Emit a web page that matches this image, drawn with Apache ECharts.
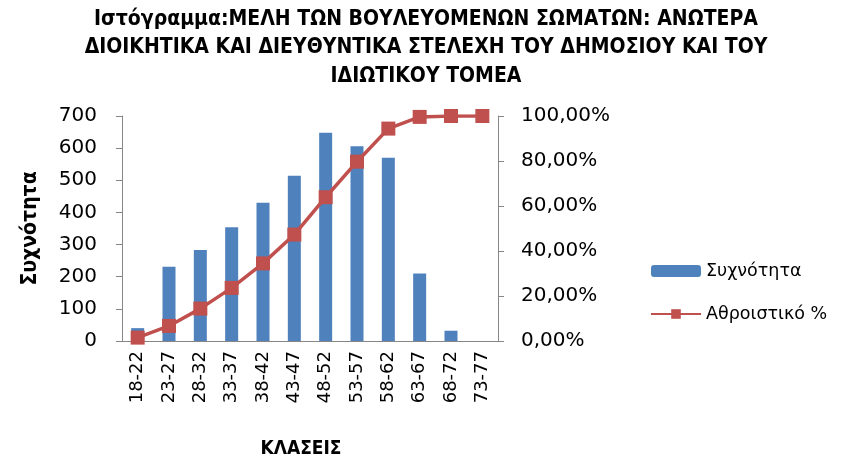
<!DOCTYPE html>
<html>
<head>
<meta charset="utf-8">
<script src="https://cdn.jsdelivr.net/npm/echarts@6/dist/echarts.min.js"></script>
<style>
  html, body { margin: 0; padding: 0; background: #fff; }
  #chart { width: 852px; height: 462px; }
</style>
</head>
<body>
<div id="chart"></div>
<script>
// κλάσεις ηλικίας
var classes = ['18-22', '23-27', '28-32', '33-37', '38-42', '43-47', '48-52', '53-57', '58-62', '63-67', '68-72', '73-77']
// συχνότητα ανά κλάση
var frequency = [40, 231, 283, 354, 430, 514, 648, 606, 570, 210, 32, 0]
// αθροιστικό ποσοστό (%)
var cumulative = [1.5, 6.7, 14.4, 23.6, 34.5, 47.3, 63.9, 79.7, 94.4, 99.6, 100, 100]

var font = 'DejaVu Sans, sans-serif'
var narrow = 'DejaVu Sans Condensed, Liberation Sans, sans-serif'
var axisGray = '#868686'

var chart = echarts.init(document.getElementById('chart'))
chart.setOption({
  animation: false,
  backgroundColor: '#fff',
  title: {
    text: 'Ιστόγραμμα:ΜΕΛΗ ΤΩΝ ΒΟΥΛΕΥΟΜΕΝΩΝ ΣΩΜΑΤΩΝ: ΑΝΩΤΕΡΑ\nΔΙΟΙΚΗΤΙΚΑ ΚΑΙ ΔΙΕΥΘΥΝΤΙΚΑ ΣΤΕΛΕΧΗ ΤΟΥ ΔΗΜΟΣΙΟΥ ΚΑΙ ΤΟΥ\nΙΔΙΩΤΙΚΟΥ ΤΟΜΕΑ',
    left: 421,
    top: 0,
    textAlign: 'center',
    textStyle: {
      fontFamily: narrow,
      fontWeight: 'bold',
      fontSize: 21,
      lineHeight: 28.5,
      color: '#000'
    }
  },
  legend: {
    orient: 'vertical',
    left: 645,
    top: 257,
    itemWidth: 50,
    itemHeight: 12,
    itemGap: 25,
    textStyle: { fontFamily: font, fontSize: 17.5, color: '#000' },
    data: ['Συχνότητα', 'Αθροιστικό %']
  },
  grid: {
    left: 122,
    right: 354,
    top: 116,
    bottom: 121,
    containLabel: false
  },
  xAxis: {
    type: 'category',
    data: classes,
    name: 'ΚΛΑΣΕΙΣ',
    nameLocation: 'middle',
    nameGap: 99,
    nameTextStyle: { fontFamily: narrow, fontWeight: 'bold', fontSize: 19, color: '#000', padding: [0, 18, 0, 0] },
    axisLine: { lineStyle: { color: axisGray } },
    axisTick: { length: 6, lineStyle: { color: axisGray } },
    axisLabel: { rotate: 90, margin: 10, fontFamily: font, fontSize: 18, color: '#000' }
  },
  yAxis: [
    {
      type: 'value',
      min: 0,
      max: 700,
      interval: 100,
      name: 'Συχνότητα',
      nameLocation: 'middle',
      nameGap: 81,
      nameRotate: 90,
      nameTextStyle: { fontFamily: narrow, fontWeight: 'bold', fontSize: 21, color: '#000' },
      axisLine: { show: true, lineStyle: { color: axisGray } },
      axisTick: { show: true, length: 6, lineStyle: { color: axisGray } },
      axisLabel: { margin: 25, fontFamily: font, fontSize: 20, color: '#000' },
      splitLine: { show: false }
    },
    {
      type: 'value',
      min: 0,
      max: 100,
      interval: 20,
      axisLine: { show: true, lineStyle: { color: axisGray } },
      axisTick: { show: true, length: 6, lineStyle: { color: axisGray } },
      axisLabel: {
        margin: 23,
        fontFamily: font,
        fontSize: 20,
        color: '#000',
        formatter: function (v) {
          return v.toFixed(2).replace('.', ',') + '%'
        }
      },
      splitLine: { show: false }
    }
  ],
  series: [
    {
      name: 'Συχνότητα',
      type: 'bar',
      data: frequency,
      barWidth: 13,
      itemStyle: { color: '#4F81BD' }
    },
    {
      name: 'Αθροιστικό %',
      type: 'line',
      yAxisIndex: 1,
      data: cumulative,
      symbol: 'rect',
      symbolSize: 14,
      lineStyle: { color: '#C0504D', width: 3.5 },
      itemStyle: { color: '#C0504D' }
    }
  ]
})
</script>
</body>
</html>
